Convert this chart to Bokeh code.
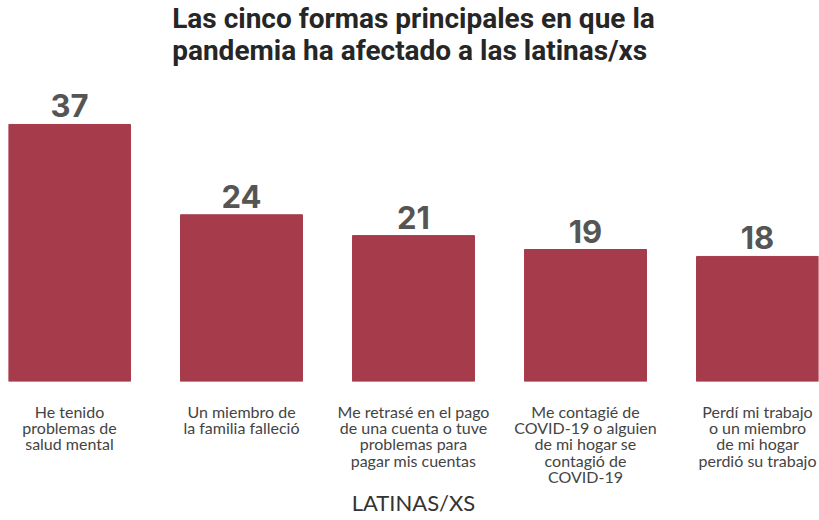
from bokeh.plotting import figure
from bokeh.models import ColumnDataSource, LabelSet, Range1d, FixedTicker
from bokeh.core.properties import value
from bokeh.embed import file_html
from bokeh.resources import INLINE

categories = [
    "He tenido\nproblemas de\nsalud mental",
    "Un miembro de\nla familia falleció",
    "Me retrasé en el pago\nde una cuenta o tuve\nproblemas para\npagar mis cuentas",
    "Me contagié de\nCOVID-19 o alguien\nde mi hogar se\ncontagió de\nCOVID-19",
    "Perdí mi trabajo\no un miembro\nde mi hogar\nperdió su trabajo",
]
values = [37, 24, 21, 19, 18]
title_text = "Las cinco formas principales en que la\npandemia ha afectado a las latinas/xs"
axis_title = "LATINAS/XS"

xs = list(range(len(values)))
src = ColumnDataSource(dict(x=xs, top=values, lbl=[str(v) for v in values]))

bw = 0.709
p = figure(frame_width=810, frame_height=314, output_backend="svg", toolbar_location=None,
           x_range=Range1d(-bw / 2, len(values) - 1 + bw / 2),
           y_range=Range1d(0, 45.2), min_border_left=8, min_border_right=1,
           min_border_top=0, min_border_bottom=0)
p.title.text = title_text
p.title.align = "center"
p.title.text_font = "Roboto"
p.title.text_font_style = "bold"
p.title.text_font_size = "28px"
p.title.text_color = "#262626"
p.title.text_line_height = 0.97
p.title.standoff = 0

p.vbar(x="x", top="top", width=bw, source=src, color="#A63B4B")
p.add_layout(LabelSet(x="x", y="top", text="lbl", source=src, text_align="center",
                      text_baseline="alphabetic", y_offset=7, text_font=value("Inter"),
                      text_font_style=value("bold"), text_font_size=value("31px"),
                      text_color="#555555"))

p.xaxis.ticker = FixedTicker(ticks=xs)
p.xaxis.major_label_overrides = {i: c for i, c in enumerate(categories)}
p.xaxis.axis_line_color = None
p.xaxis.major_tick_line_color = None
p.xaxis.minor_tick_line_color = None
p.xaxis.major_tick_out = 0
p.xaxis.major_tick_in = 0
p.xaxis.major_label_text_font = "Lato"
p.xaxis.major_label_text_font_size = "16px"
p.xaxis.major_label_text_line_height = 0.86
p.xaxis.major_label_text_color = "#444444"
p.xaxis.major_label_standoff = 20
p.xaxis.axis_label = axis_title
p.xaxis.axis_label_text_font = "Lato"
p.xaxis.axis_label_text_font_style = "normal"
p.xaxis.axis_label_text_font_size = "22px"
p.xaxis.axis_label_text_color = "#333333"
p.xaxis.axis_label_standoff = 0
p.yaxis.visible = False
p.xgrid.grid_line_color = None
p.ygrid.grid_line_color = None
p.outline_line_color = None

open("out.html", "w").write(file_html(p, INLINE))
